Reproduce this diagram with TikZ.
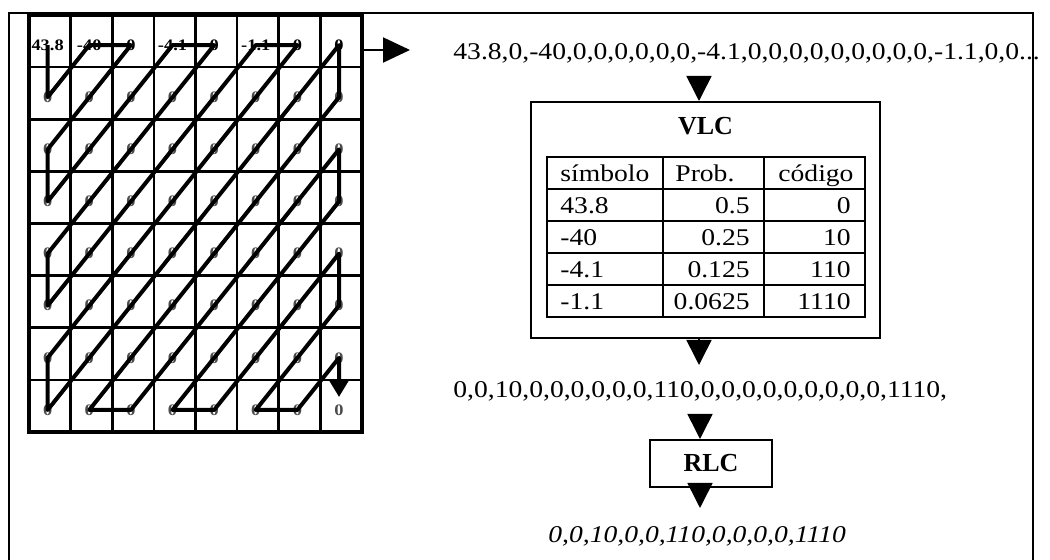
\documentclass[tikz,border=0pt]{standalone}
\usepackage{fontspec}
\setmainfont{Liberation Serif}[FakeStretch=1.15]
\newfontfamily\titlefont{Liberation Serif}
\usetikzlibrary{arrows.meta}

\begin{document}
\begin{tikzpicture}
		[x=0.5pt, y=-0.5pt,
		 every node/.style={font=\fontsize{12}{14}\selectfont, inner sep=0pt},
		 frame/.style={line width=1.2pt},
		 cellline/.style={line width=1.3pt},
		 val/.style={font=\fontsize{8}{9}\selectfont\bfseries},
		 zz/.style={line width=2pt, line join=round, -{Triangle[length=8pt,width=9pt]}, shorten >=6.5pt},
		 box/.style={draw, line width=1pt},
		 title/.style={font=\titlefont\fontsize{13}{15}\selectfont\bfseries},
		 tab/.style={line width=0.8pt},
		 fwd/.style={line width=1pt, -{Triangle[length=13.5pt,width=12.5pt]}},
		 down/.style={line width=0.8pt, -{Triangle[length=12.5pt,width=12.5pt]}}]
			\useasboundingbox (0,0) rectangle (1050,560);
			\draw[frame] (9,560) -- (9,13) -- (1033,13) -- (1033,560);
			\foreach \i in {1,...,7} {
				\draw[cellline] ({29+41.625*\i},15) -- ({29+41.625*\i},432);
				\draw[cellline] (29,{15+52.125*\i}) -- (362,{15+52.125*\i});
			}
			\draw[line width=1.8pt] (29,15) rectangle (362,432);
			\foreach \v [count=\c] in {43.8,-40,0,-4.1,0,-1.1,0,0}
				\node[val] (g-1-\c) at ({41.625*\c+6},{52.125-7}) {\v};
			\foreach \r in {2,...,8}
				\foreach \c in {1,...,8}
					\node[val, text=black!70] (g-\r-\c) at ({41.625*\c+6},{52.125*\r-7}) {0};
			\draw[zz] (g-1-1.center) -- (g-2-1.center) -- (g-1-2.center) -- (g-1-3.center)
				-- (g-3-1.center) -- (g-4-1.center) -- (g-1-4.center) -- (g-1-5.center)
				-- (g-5-1.center) -- (g-6-1.center) -- (g-1-6.center) -- (g-1-7.center)
				-- (g-7-1.center) -- (g-8-1.center) -- (g-1-8.center) -- (g-2-8.center)
				-- (g-8-2.center) -- (g-8-3.center) -- (g-3-8.center) -- (g-4-8.center)
				-- (g-8-4.center) -- (g-8-5.center) -- (g-5-8.center) -- (g-6-8.center)
				-- (g-8-6.center) -- (g-8-7.center) -- (g-7-8.center) -- (g-8-8.center);
			\node[anchor=base west] (seq1) at (453,60) {43.8,0,-40,0,0,0,0,0,0,-4.1,0,0,0,0,0,0,0,0,0,-1.1,0,0...};
			\coordinate (gout) at (362,50);
			\draw[fwd, shorten >=21.5pt] (gout) -- (gout -| seq1.west);
			\node[box, minimum width=174.5pt, minimum height=118pt] (vlc) at (705.5,220) {};
			\node[title, anchor=base] (vlct) at (705.5,135) {VLC};
			\draw[tab] (547,157) rectangle (865,317);
			\foreach \y in {189,221,253,285} \draw[tab] (547,\y) -- (865,\y);
			\foreach \x in {663,764} \draw[tab] (\x,157) -- (\x,317);
			\node[anchor=base west] (h1) at (560,182) {símbolo};
			\node[anchor=base west] (h2) at (675,182) {Prob.};
			\node[anchor=base west] (h3) at (778,182) {código};
			\foreach \sy/\pr/\co [count=\n] in {43.8/0.5/0,-40/0.25/10,-4.1/0.125/110,-1.1/0.0625/1110} {
				\node[anchor=base west] (s\n) at (560,{182+32*\n}) {\sy};
				\node[anchor=base east] (p\n) at (750,{182+32*\n}) {\pr};
				\node[anchor=base east] (c\n) at (851,{182+32*\n}) {\co};
			}
			\node[anchor=base west] (seq2) at (453,398) {0,0,10,0,0,0,0,0,0,110,0,0,0,0,0,0,0,0,0,1110,};
			\node[box, title, minimum width=61pt, minimum height=23.5pt] (rlc) at (711,463.5) {RLC};
			\node[anchor=base west, font=\fontsize{12}{14}\selectfont\itshape] (seq3) at (548,543) {0,0,10,0,0,110,0,0,0,0,1110};
			\coordinate (a1) at (699,77);
			\draw[down] (a1) -- (a1 |- vlc.north);
			\coordinate (a2) at (699,365);
			\draw[down] (a2 |- vlc.south) -- (a2);
			\coordinate (a3) at (700,415);
			\draw[down] (a3) -- (a3 |- rlc.north);
			\coordinate (a4) at (700,508);
			\draw[down, shorten <=-2.5pt] (a4 |- rlc.south) -- (a4);
	\end{tikzpicture}
\end{document}
